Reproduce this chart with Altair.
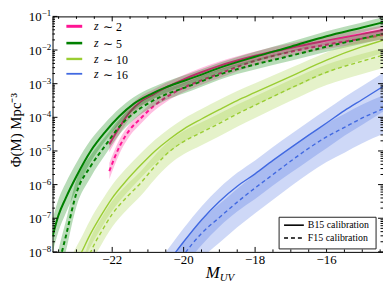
import math
import altair as alt
import pandas as pd

# ---------------- data (log10 Phi) ----------------
M_z2 = [-22.08, -21.8, -21.5, -21.2, -20.9, -20.5, -20.0, -19.5, -19.0, -18.0, -17.0, -16.0, -15.0, -14.4]
b15_z2 = [-4.8, -4.3, -3.84, -3.53, -3.35, -3.12, -2.87, -2.66, -2.47, -2.17, -1.93, -1.72, -1.52, -1.40]
f15_z2 = [-5.6, -4.88, -4.36, -4.03, -3.72, -3.41, -3.12, -2.9, -2.7, -2.32, -2.05, -1.84, -1.66, -1.55]
up_z2 = [0.24, 0.21, 0.18, 0.16, 0.15, 0.14, 0.13, 0.13, 0.13, 0.13, 0.13, 0.13, 0.13, 0.13]
dn_z2 = [0.24, 0.21, 0.18, 0.16, 0.15, 0.14, 0.13, 0.13, 0.13, 0.13, 0.13, 0.13, 0.13, 0.13]

M_z5 = [-23.67, -23.5, -23.3, -23.0, -22.6, -22.2, -21.8, -21.4, -20.9, -20.5, -20.0, -19.5, -19.0, -18.0, -17.0, -16.0, -15.0, -14.4]
b15_z5 = [-7.54, -6.9, -6.4, -5.75, -5.0, -4.44, -3.97, -3.6, -3.3, -3.11, -2.92, -2.73, -2.53, -2.2, -1.9, -1.59, -1.33, -1.17]
f15_z5 = [-9.2, -8.4, -7.55, -6.25, -5.45, -4.85, -4.28, -3.88, -3.53, -3.32, -3.13, -2.93, -2.73, -2.43, -2.17, -1.9, -1.66, -1.52]
up_z5 = [0.5, 0.48, 0.45, 0.4, 0.33, 0.27, 0.23, 0.2, 0.18, 0.17, 0.16, 0.16, 0.15, 0.15, 0.15, 0.15, 0.15, 0.15]
dn_z5 = [0.5, 0.48, 0.45, 0.4, 0.33, 0.27, 0.23, 0.2, 0.18, 0.17, 0.16, 0.16, 0.15, 0.15, 0.15, 0.15, 0.15, 0.15]

M_z10 = [-23.1, -22.9, -22.6, -22.3, -22.0, -21.6, -21.2, -20.8, -20.4, -20.0, -19.5, -19.0, -18.5, -18.0, -17.0, -16.0, -15.0, -14.4]
b15_z10 = [-8.5, -8.1, -7.45, -6.9, -6.4, -5.88, -5.42, -5.0, -4.65, -4.35, -4.05, -3.77, -3.5, -3.26, -2.78, -2.3, -1.9, -1.7]
f15_z10 = [-9.4, -8.9, -8.0, -7.4, -6.88, -6.38, -5.95, -5.45, -5.02, -4.72, -4.45, -4.18, -3.9, -3.64, -3.13, -2.66, -2.33, -2.15]
up_z10 = [0.46, 0.45, 0.43, 0.41, 0.39, 0.37, 0.35, 0.33, 0.32, 0.31, 0.3, 0.29, 0.28, 0.27, 0.25, 0.23, 0.22, 0.21]
dn_z10 = [0.38, 0.38, 0.38, 0.38, 0.38, 0.38, 0.38, 0.38, 0.38, 0.38, 0.38, 0.38, 0.38, 0.38, 0.38, 0.38, 0.38, 0.38]

M_z16 = [-20.6, -20.3, -20.0, -19.5, -19.0, -18.5, -18.0, -17.5, -17.0, -16.5, -16.0, -15.5, -15.0, -14.4]
b15_z16 = [-8.55, -8.12, -7.7, -7.05, -6.5, -6.05, -5.68, -5.28, -4.9, -4.53, -4.17, -3.8, -3.47, -3.07]
f15_z16 = [-9.05, -8.6, -8.1, -7.45, -6.98, -6.52, -6.1, -5.7, -5.3, -4.92, -4.58, -4.3, -4.02, -3.74]
up_z16 = [0.4, 0.4, 0.4, 0.4, 0.4, 0.4, 0.4, 0.4, 0.4, 0.4, 0.4, 0.4, 0.4, 0.4]
dn_z16 = [0.75, 0.75, 0.75, 0.75, 0.75, 0.75, 0.75, 0.75, 0.75, 0.75, 0.75, 0.75, 0.75, 0.75]

series_labels = ["2", "5", "10", "16"]
calib_labels = ["B15 calibration", "F15 calibration"]
x_major = [-22, -20, -18, -16]
y_major = [-8, -7, -6, -5, -4, -3, -2, -1]

# ---------------- layout / style ----------------
W, H = 334, 238
XDOM = [-23.67, -14.42]
YDOM = [-8, -1]
FONT = "Liberation Serif"
colors = ["#ff1493", "#008000", "#9acd32", "#4169e1"]
band_op = [0.28, 0.28, 0.26, 0.26]
line_w = [2.0, 2.0, 1.4, 1.4]
legend_w = [3.0, 2.6, 2.4, 1.8]
dash = [4, 3]

xs = alt.Scale(domain=XDOM, nice=False, zero=False)
ys = alt.Scale(domain=YDOM, nice=False, zero=False)

groups = [
    (M_z2, b15_z2, f15_z2, up_z2, dn_z2),
    (M_z5, b15_z5, f15_z5, up_z5, dn_z5),
    (M_z10, b15_z10, f15_z10, up_z10, dn_z10),
    (M_z16, b15_z16, f15_z16, up_z16, dn_z16),
]

layers = []
for i, (Ms, b, f, up, dn) in enumerate(groups):
    for vals in (b, f):
        df = pd.DataFrame({"M": Ms, "lo": [v - d for v, d in zip(vals, dn)],
                           "hi": [v + u for v, u in zip(vals, up)]})
        layers.append(alt.Chart(df).mark_area(color=colors[i], opacity=band_op[i], clip=True,
                                              interpolate="monotone").encode(
            x=alt.X("M:Q", scale=xs, axis=None),
            y=alt.Y("lo:Q", scale=ys, axis=None),
            y2="hi:Q"))
    for k, vals in enumerate((b, f)):
        df = pd.DataFrame({"M": Ms, "v": vals})
        kw = dict(color=colors[i], strokeWidth=line_w[i], clip=True, interpolate="monotone")
        if k == 1:
            kw["strokeDash"] = dash
        layers.append(alt.Chart(df).mark_line(**kw).encode(
            x=alt.X("M:Q", scale=xs, axis=None),
            y=alt.Y("v:Q", scale=ys, axis=None)))

# ---------------- inward ticks on all four sides ----------------
x_minor = [v / 2 for v in range(-47, -28) if (v / 2) not in x_major]
y_minor = [n + math.log10(k) for n in range(-8, -1) for k in range(2, 10)]
xmaj = pd.DataFrame({"t": x_major})
xmin = pd.DataFrame({"t": x_minor})
ymaj = pd.DataFrame({"t": y_major})
ymin = pd.DataFrame({"t": y_minor})
for d, L in ((xmaj, 5), (xmin, 2.5)):
    layers.append(alt.Chart(d).mark_rule(color="black", strokeWidth=1).encode(
        x=alt.X("t:Q", scale=xs, axis=None), y=alt.value(H), y2=alt.value(H - L)))
    layers.append(alt.Chart(d).mark_rule(color="black", strokeWidth=1).encode(
        x=alt.X("t:Q", scale=xs, axis=None), y=alt.value(0), y2=alt.value(L)))
for d, L in ((ymaj, 5), (ymin, 2.5)):
    layers.append(alt.Chart(d).mark_rule(color="black", strokeWidth=1).encode(
        y=alt.Y("t:Q", scale=ys, axis=None), x=alt.value(0), x2=alt.value(L)))
    layers.append(alt.Chart(d).mark_rule(color="black", strokeWidth=1).encode(
        y=alt.Y("t:Q", scale=ys, axis=None), x=alt.value(W), x2=alt.value(W - L)))

# ---------------- tick labels ----------------
layers.append(alt.Chart(xmaj).mark_text(font=FONT, fontSize=13, baseline="alphabetic",
                                        align="center", color="black").encode(
    x=alt.X("t:Q", scale=xs, axis=None), y=alt.value(H + 12),
    text=alt.Text("lab:N")).transform_calculate(lab="'\u2212' + abs(datum.t)"))
layers.append(alt.Chart(ymaj).mark_text(font=FONT, fontSize=13, baseline="middle",
                                        align="right", color="black", dy=1).encode(
    y=alt.Y("t:Q", scale=ys, axis=None), x=alt.value(-11),
    text=alt.value("10")))
layers.append(alt.Chart(ymaj).mark_text(font=FONT, fontSize=9, baseline="middle",
                                        align="left", color="black", dy=-3).encode(
    y=alt.Y("t:Q", scale=ys, axis=None), x=alt.value(-11),
    text=alt.Text("lab:N")).transform_calculate(lab="'\u2212' + abs(datum.t)"))

one = pd.DataFrame({"a": [0]})
# axis titles
layers.append(alt.Chart(one).mark_text(font=FONT, fontSize=17, fontStyle="italic", align="right",
                                       baseline="alphabetic", text="M").encode(
    x=alt.value(169), y=alt.value(264)))
layers.append(alt.Chart(one).mark_text(font=FONT, fontSize=11, fontStyle="italic", align="left",
                                       baseline="alphabetic", text="UV").encode(
    x=alt.value(169), y=alt.value(267)))
layers.append(alt.Chart(one).mark_text(font=FONT, fontSize=15, angle=270, align="center",
                                       baseline="middle", text="\u03a6(M) Mpc\u207b\u00b3").encode(
    x=alt.value(-37), y=alt.value(115)))

# ---------------- redshift legend (top left) ----------------
row_y = [10, 27, 43, 58]
for i, lab in enumerate(series_labels):
    layers.append(alt.Chart(one).mark_rule(color=colors[i], strokeWidth=legend_w[i]).encode(
        x=alt.value(14), x2=alt.value(30), y=alt.value(row_y[i])))
    layers.append(alt.Chart(one).mark_text(font=FONT, fontSize=12, fontStyle="italic", align="left",
                                           baseline="middle", text="z").encode(
        x=alt.value(42), y=alt.value(row_y[i])))
    layers.append(alt.Chart(one).mark_text(font=FONT, fontSize=12, align="left",
                                           baseline="middle", text="\u223c " + lab).encode(
        x=alt.value(51), y=alt.value(row_y[i] + 1)))

# ---------------- calibration legend (bottom right) ----------------
layers.append(alt.Chart(one).mark_rect(fill="white", stroke="#222", strokeWidth=1).encode(
    x=alt.value(229), x2=alt.value(327), y=alt.value(203), y2=alt.value(235)))
for k, lab in enumerate(calib_labels):
    yy = 211 + 13 * k
    kw = dict(color="black", strokeWidth=1.6)
    if k == 1:
        kw["strokeDash"] = [4, 3]
    layers.append(alt.Chart(one).mark_rule(**kw).encode(
        x=alt.value(234), x2=alt.value(254), y=alt.value(yy)))
    layers.append(alt.Chart(one).mark_text(font=FONT, fontSize=10, align="left",
                                           baseline="middle", text=lab).encode(
        x=alt.value(258), y=alt.value(yy)))

chart = alt.layer(*layers).properties(
    width=W, height=H,
    autosize=alt.AutoSizeParams(type="none"),
    padding={"left": 45, "top": 7, "right": 0, "bottom": 34},
).configure_view(stroke="black", strokeWidth=1)

chart.save("out.html", embed_options={"renderer": "svg", "actions": False})
